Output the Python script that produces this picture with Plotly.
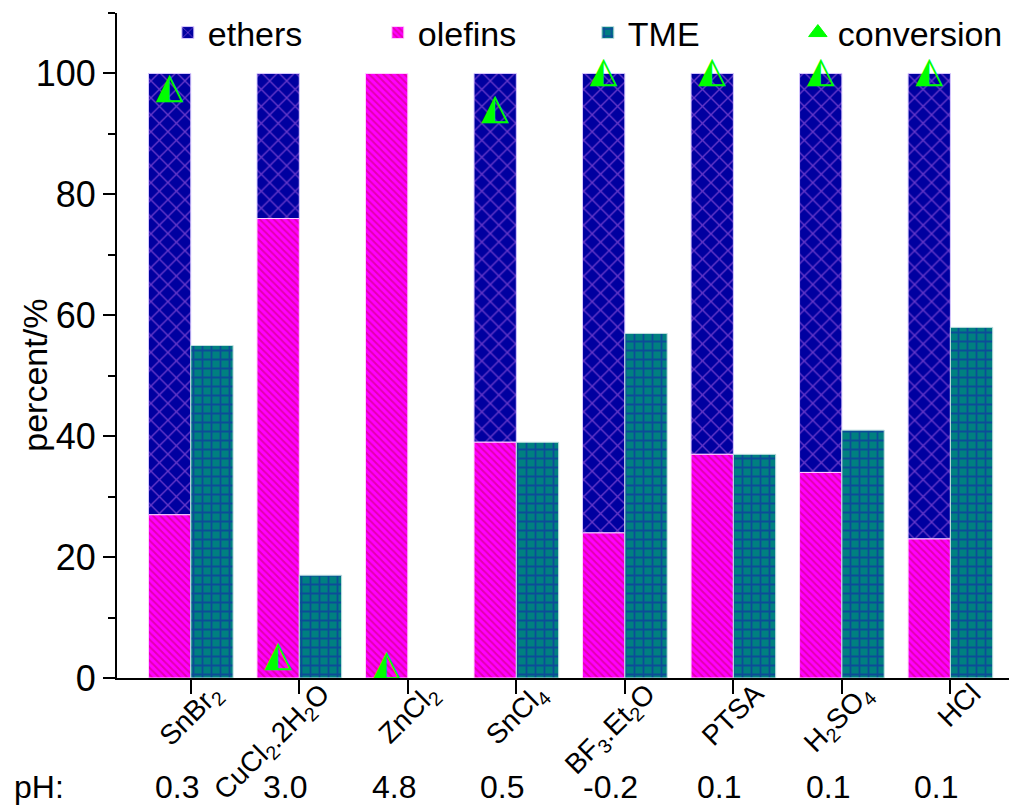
import plotly.graph_objects as go

# ---- data ----
catalysts = ["SnBr<sub>2</sub>", "CuCl<sub>2</sub>.2H<sub>2</sub>O", "ZnCl<sub>2</sub>", "SnCl<sub>4</sub>",
             "BF<sub>3</sub>.Et<sub>2</sub>O", "PTSA", "H<sub>2</sub>SO<sub>4</sub>", "HCl"]
ph_values = ["0.3", "3.0", "4.8", "0.5", "-0.2", "0.1", "0.1", "0.1"]
olefins = [27, 76, 100, 39, 24, 37, 34, 23]
ethers = [73, 24, 0, 61, 76, 63, 66, 77]
tme = [55, 17, 0, 39, 57, 37, 41, 58]
conversion = [97.5, 3.5, 2, 94, 100, 100, 100, 100]

pos = list(range(len(catalysts)))
W = 0.39
FONT = "Liberation Sans, Arial, sans-serif"
GREEN = "#00ff00"


def edge_widths(values):
    return [0 if v == 0 else 1 for v in values]


fig = go.Figure()

fig.add_trace(go.Bar(
    x=pos, y=ethers, base=olefins, width=W, offset=-W, name="ethers",
    marker=dict(color="#0000a0", line=dict(color="#d8c8ff", width=edge_widths(ethers)),
                pattern=dict(shape="x", fgcolor="#c86ef0", bgcolor="#0000a0", size=12, solidity=0.22)),
))
fig.add_trace(go.Bar(
    x=pos, y=olefins, width=W, offset=-W, name="olefins",
    marker=dict(color="#ff00ff", line=dict(color="#ffd0ff", width=edge_widths(olefins)),
                pattern=dict(shape="\\", fgcolor="#c8005a", bgcolor="#ff00ff", size=5, solidity=0.4)),
))
fig.add_trace(go.Bar(
    x=pos, y=tme, width=W, offset=0, name="TME",
    marker=dict(color="#008080", line=dict(color="#c0e0e0", width=edge_widths(tme)),
                pattern=dict(shape="+", fgcolor="#1818b0", bgcolor="#008080", size=9, solidity=0.36)),
))
conv_x = [p - W / 2 for p in pos]
# conversion points: half-filled up-triangles
fig.add_trace(go.Scatter(
    x=conv_x, y=conversion, mode="text", text=["◭"] * len(pos), name="conversion",
    showlegend=False, textposition="middle center",
    textfont=dict(family="DejaVu Sans", size=36, color=GREEN),
    cliponaxis=False,
))
# legend key for the conversion series (no points of its own)
fig.add_trace(go.Scatter(
    x=[None], y=[None], mode="markers", name="conversion",
    marker=dict(symbol="triangle-up", size=16, color=GREEN, line=dict(color=GREEN, width=1)),
))

annotations = [dict(text="pH:", x=-0.088, y=-0.164, xref="paper", yref="paper",
                    xanchor="center", yanchor="middle", showarrow=False,
                    font=dict(family=FONT, size=32, color="black"))]
for p, v in zip(pos, ph_values):
    annotations.append(dict(text=v, x=p, y=-0.164, xref="x", yref="paper", xshift=-14,
                            xanchor="center", yanchor="middle", showarrow=False,
                            font=dict(family=FONT, size=32, color="black")))
annotations.append(dict(text="percent/%", x=-0.092, y=0.456, xref="paper", yref="paper",
                        textangle=-90, xanchor="center", yanchor="middle", showarrow=False,
                        font=dict(family=FONT, size=34, color="black")))

fig.update_layout(
    width=1009, height=808,
    margin=dict(l=117, r=0, t=13, b=130),
    barmode="overlay",
    plot_bgcolor="white", paper_bgcolor="white",
    font=dict(family=FONT, color="black"),
    showlegend=True,
    legend=dict(orientation="h", x=0.057, y=0.97, xanchor="left", yanchor="middle",
                bgcolor="rgba(0,0,0,0)", font=dict(family=FONT, size=34, color="black"),
                itemwidth=30, entrywidth=165, entrywidthmode="pixels", traceorder="normal"),
    annotations=annotations,
)
fig.update_xaxes(
    range=[-0.68, 7.54], tickmode="array", tickvals=pos, ticktext=catalysts, tickangle=-45,
    ticks="outside", ticklen=14, tickwidth=2, tickcolor="black", automargin=False,
    ticklabelstandoff=-28, ticklabelshift=22,
    showline=True, linewidth=2, linecolor="black", showgrid=False, zeroline=False,
    tickfont=dict(family=FONT, size=28, color="black"),
)
fig.update_yaxes(
    range=[0, 110], tickmode="linear", tick0=0, dtick=20, automargin=False,
    ticks="outside", ticklen=12, tickwidth=2, tickcolor="black",
    minor=dict(dtick=10, ticks="outside", ticklen=7, tickwidth=2, tickcolor="black"),
    showline=True, linewidth=2, linecolor="black", showgrid=False, zeroline=False,
    tickfont=dict(family=FONT, size=36, color="black"),
)

fig.write_html("out.html")
